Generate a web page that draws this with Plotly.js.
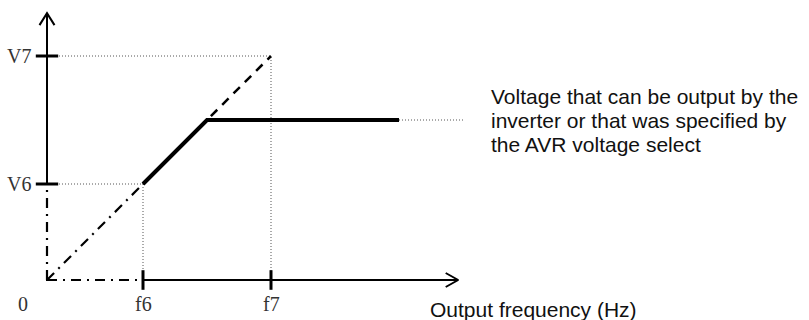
<!DOCTYPE html>
<html>
<head>
<meta charset="utf-8">
<script src="https://cdn.plot.ly/plotly-3.0.1.min.js"></script>
<style>
html,body{margin:0;padding:0;background:#fff;}
#chart{width:809px;height:320px;}
</style>
</head>
<body>
<div id="chart"></div>
<script>
// ---- data ----
const freqLabels = ['0', 'f6', 'f7'];
const freqValues = [0, 3, 7];
const voltLabels = ['V6', 'V7'];
const voltValues = [3, 7];
const outputFreq = [3, 5, 11];     // achievable output voltage curve
const outputVolt = [3, 5, 5];
const refFreq = [0, 3, 7];         // set V/f line through origin, (f6,V6), (f7,V7)
const refVolt = [0, 3, 7];
const limitLineEnd = 13;
const axisFreqMax = 12.85;
const axisVoltMax = 8.34;
const noteLines = ['Voltage that can be output by the', 'inverter or that was specified by', 'the AVR voltage select'];
const xAxisTitle = 'Output frequency (Hz)';

// ---- derived ----
const f6 = freqValues[1], f7 = freqValues[2];
const v6 = voltValues[0], v7 = voltValues[1];
const flatV = outputVolt[outputVolt.length - 1];
const flatEnd = outputFreq[outputFreq.length - 1];

const PX = 32; // px per data unit (both axes)
const u = p => p / PX;

const traces = [];
// dotted guide lines
traces.push({
  x: [0, f7, f7, null, 0, f6, f6, null, flatEnd, limitLineEnd],
  y: [v7, v7, 0, null, v6, v6, 0, null, flatV, flatV],
  mode: 'lines', line: {color: '#555', width: 1, dash: '1px,2px'}, hoverinfo: 'skip'
});
// dash-dot lines (lower part of reference line and axes near origin)
traces.push({
  x: [refFreq[0], refFreq[1], null, 0, 0, null, 0, f6],
  y: [refVolt[0], refVolt[1], null, 0, v6, null, 0, 0],
  mode: 'lines', line: {color: '#000', width: 2.2, dash: '10px,6px,2px,6px'}, hoverinfo: 'skip'
});
// dashed upper reference
traces.push({
  x: [refFreq[1], refFreq[2]], y: [refVolt[1], refVolt[2]],
  mode: 'lines', line: {color: '#000', width: 2.5, dash: '9px,7px'}, hoverinfo: 'skip'
});
// solid axes
traces.push({
  x: [0, 0, null, f6, axisFreqMax],
  y: [v6, axisVoltMax, null, 0, 0],
  mode: 'lines', line: {color: '#000', width: 2}, hoverinfo: 'skip'
});
// arrowheads
traces.push({
  x: [-u(7.5), 0, u(7.5), null, axisFreqMax - u(12.5), axisFreqMax, axisFreqMax - u(12.5), null, 0, 0, u(8)],
  y: [axisVoltMax - u(12), axisVoltMax, axisVoltMax - u(12), null, u(7), 0, -u(7), null, u(8), 0, 0],
  mode: 'lines', line: {color: '#000', width: 2}, hoverinfo: 'skip'
});
// thick output curve
traces.push({
  x: outputFreq, y: outputVolt,
  mode: 'lines', line: {color: '#000', width: 4}, hoverinfo: 'skip'
});
// tick marks
traces.push({
  x: freqValues.slice(1), y: freqValues.slice(1).map(() => 0),
  mode: 'markers', cliponaxis: false,
  marker: {symbol: 'line-ns', size: 14, line: {color: '#000', width: 3}}, hoverinfo: 'skip'
});
traces.push({
  x: voltValues.map(() => 0), y: voltValues,
  mode: 'markers', cliponaxis: false,
  marker: {symbol: 'line-ew', size: 16, line: {color: '#000', width: 3}}, hoverinfo: 'skip'
});

const serifFont = {family: '"Liberation Serif", "DejaVu Serif", serif', size: 20, color: '#333'};
const sansFont = {family: '"Liberation Sans", Arial, sans-serif', size: 21, color: '#111'};

const annotations = [];
freqLabels.forEach((t, i) => {
  annotations.push({
    x: freqValues[i] === 0 ? u(23 - 47) : freqValues[i], y: u(280 - 304),
    text: t, showarrow: false, xanchor: 'center', yanchor: 'middle', font: serifFont
  });
});
voltLabels.forEach((t, i) => {
  annotations.push({
    x: u(19 - 47), y: voltValues[i],
    text: t, showarrow: false, xanchor: 'center', yanchor: 'middle', font: serifFont
  });
});
noteLines.forEach((t, i) => {
  annotations.push({
    x: u(489 - 47), y: flatV, yshift: 24 * (1 - i),
    text: t, showarrow: false, xanchor: 'left', yanchor: 'middle', font: sansFont
  });
});
annotations.push({
  x: u(428 - 47), y: u(280 - 309),
  text: xAxisTitle, showarrow: false, xanchor: 'left', yanchor: 'middle', font: sansFont
});

const layout = {
  width: 809, height: 320,
  margin: {l: 0, r: 0, t: 0, b: 0, pad: 0},
  paper_bgcolor: '#fff', plot_bgcolor: '#fff',
  showlegend: false,
  xaxis: {range: [-47 / PX, (809 - 47) / PX], visible: false, fixedrange: true},
  yaxis: {range: [-(320 - 280) / PX, 280 / PX], visible: false, fixedrange: true},
  annotations: annotations
};

Plotly.newPlot('chart', traces, layout, {displayModeBar: false, staticPlot: true});
</script>
</body>
</html>
